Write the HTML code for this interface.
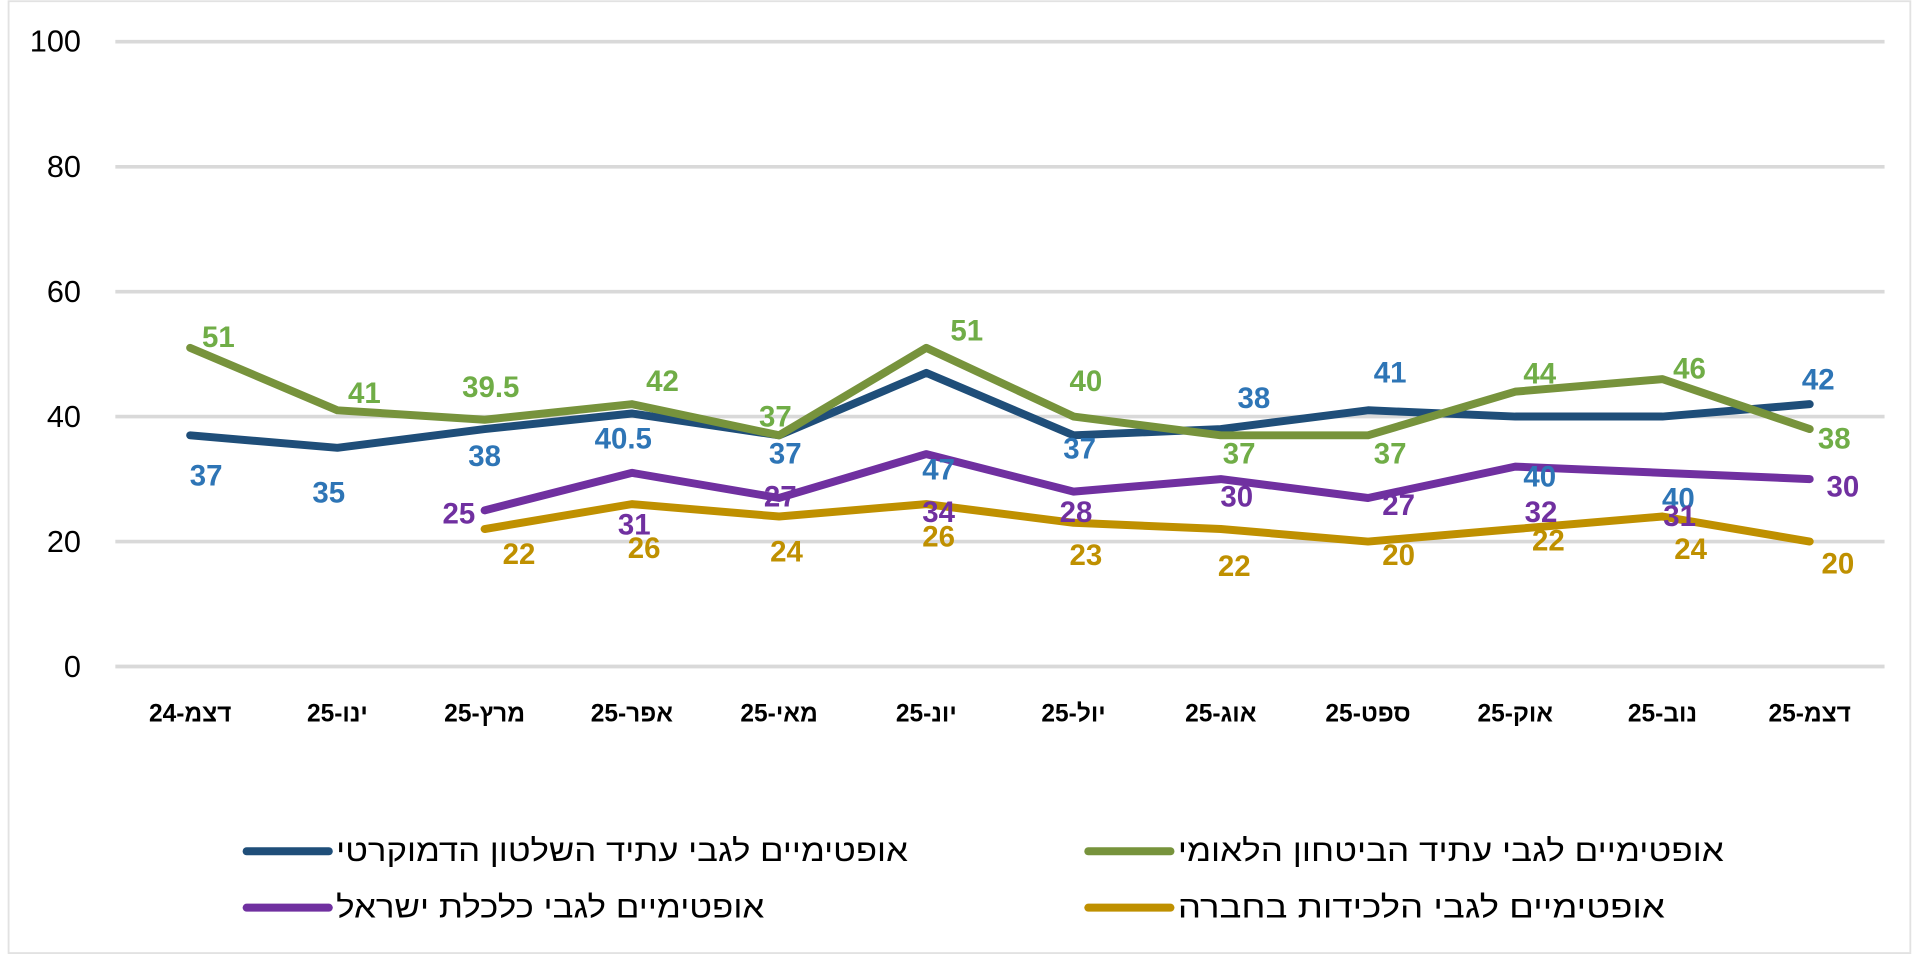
<!DOCTYPE html>
<html><head><meta charset="utf-8"><style>
html,body{margin:0;padding:0;background:#fff;}
svg{display:block;}
text{font-family:"Liberation Sans",sans-serif;}
.ax{font-size:25px;fill:#000;}
.xl{font-size:20px;font-weight:bold;fill:#000;}
.dl{font-family:"Liberation Sans Narrow","Liberation Sans",sans-serif;font-weight:bold;font-size:24px;text-anchor:middle;dominant-baseline:central;}
.lg{font-family:"Liberation Sans Narrow","Liberation Sans","DejaVu Sans",sans-serif;font-size:25px;fill:#000;dominant-baseline:central;}
</style></head><body>
<svg width="1914" height="969" viewBox="0 0 1560 790" preserveAspectRatio="none">
<rect x="7" y="1" width="1550" height="776" fill="#fff" stroke="#e2e2e2" stroke-width="1.5"/>
<g stroke="#d9d9d9" stroke-width="3">
<line x1="94" x2="1536" y1="34" y2="34"/>
<line x1="94" x2="1536" y1="136" y2="136"/>
<line x1="94" x2="1536" y1="237.8" y2="237.8"/>
<line x1="94" x2="1536" y1="339.6" y2="339.6"/>
<line x1="94" x2="1536" y1="441.5" y2="441.5"/>
<line x1="94" x2="1536" y1="543.4" y2="543.4"/>
</g>
<g class="ax" text-anchor="end" dominant-baseline="central">
<text x="66" y="34">100</text><text x="66" y="136">80</text><text x="66" y="238">60</text>
<text x="66" y="340">40</text><text x="66" y="442">20</text><text x="66" y="544">0</text>
</g>
<g class="xl" text-anchor="middle" dominant-baseline="central">
<text x="155" y="582">24-דצמ</text><text x="275" y="582">25-ינו</text><text x="395" y="582">25-מרץ</text>
<text x="515" y="582">25-אפר</text><text x="635" y="582">25-מאי</text><text x="755" y="582">25-יונ</text>
<text x="875" y="582">25-יול</text><text x="995" y="582">25-אוג</text><text x="1115" y="582">25-ספט</text>
<text x="1235" y="582">25-אוק</text><text x="1355" y="582">25-נוב</text><text x="1475" y="582">25-דצמ</text>
</g>
<g fill="none" stroke-width="6.5" stroke-linejoin="round" stroke-linecap="round">
<polyline stroke="#7030a0" points="395,416.1 515,385.5 635,406.0 755,370.2 875,400.8 995,390.6 1115,406.0 1235,380.4 1355,385.5 1475,390.6"/>
<polyline stroke="#bf9000" points="395,431.3 515,411.0 635,421.1 755,411.0 875,426.2 995,431.3 1115,441.5 1235,431.3 1355,421.1 1475,441.5"/>
<polyline stroke="#1f4e79" points="155,354.9 275,365.1 395,349.8 515,337.1 635,354.9 755,304.0 875,354.9 995,349.8 1115,334.5 1235,339.6 1355,339.6 1475,329.5"/>
<polyline stroke="#77933c" points="155,283.6 275,334.5 395,342.2 515,329.5 635,354.9 755,283.6 875,339.6 995,354.9 1115,354.9 1235,319.3 1355,309.1 1475,349.8"/>
</g>
<g class="dl" fill="#2e75b6">
<text x="168" y="388">37</text><text x="268" y="402">35</text><text x="395" y="372">38</text><text x="508" y="358">40.5</text>
<text x="640" y="370">37</text><text x="765" y="383">47</text><text x="880" y="366">37</text><text x="1022" y="325">38</text>
<text x="1133" y="304">41</text><text x="1255" y="389">40</text><text x="1368" y="407">40</text><text x="1482" y="310">42</text>
</g>
<g class="dl" fill="#70ad47">
<text x="178" y="275">51</text><text x="297" y="321">41</text><text x="400" y="316">39.5</text><text x="540" y="311">42</text>
<text x="632" y="340">37</text><text x="788" y="270">51</text><text x="885" y="311">40</text><text x="1010" y="370">37</text>
<text x="1133" y="370">37</text><text x="1255" y="305">44</text><text x="1377" y="301">46</text><text x="1495" y="358">38</text>
</g>
<g class="dl" fill="#7030a0">
<text x="374" y="419">25</text><text x="517" y="428">31</text><text x="636" y="405">27</text><text x="765" y="418">34</text>
<text x="877" y="418">28</text><text x="1008" y="405">30</text><text x="1140" y="412">27</text><text x="1256" y="418">32</text>
<text x="1369" y="421">31</text><text x="1502" y="397">30</text>
</g>
<g class="dl" fill="#bf9000">
<text x="423" y="452">22</text><text x="525" y="447">26</text><text x="641" y="450">24</text><text x="765" y="438">26</text>
<text x="885" y="453">23</text><text x="1006" y="462">22</text><text x="1140" y="453">20</text><text x="1262" y="441">22</text>
<text x="1378" y="448">24</text><text x="1498" y="460">20</text>
</g>
<g stroke-width="6.5" stroke-linecap="round">
<line x1="201" x2="268" y1="694" y2="694" stroke="#1f4e79"/>
<line x1="887" x2="954" y1="694" y2="694" stroke="#77933c"/>
<line x1="201" x2="268" y1="740" y2="740" stroke="#7030a0"/>
<line x1="887" x2="954" y1="740" y2="740" stroke="#bf9000"/>
</g>
<text class="lg" x="274" y="694" textLength="466" lengthAdjust="spacingAndGlyphs">אופטימיים לגבי עתיד השלטון הדמוקרטי</text>
<text class="lg" x="960" y="694" textLength="445" lengthAdjust="spacingAndGlyphs">אופטימיים לגבי עתיד הביטחון הלאומי</text>
<text class="lg" x="274" y="740" textLength="349" lengthAdjust="spacingAndGlyphs">אופטימיים לגבי כלכלת ישראל</text>
<text class="lg" x="960" y="740" textLength="397" lengthAdjust="spacingAndGlyphs">אופטימיים לגבי הלכידות בחברה</text>
</svg>
</body></html>
